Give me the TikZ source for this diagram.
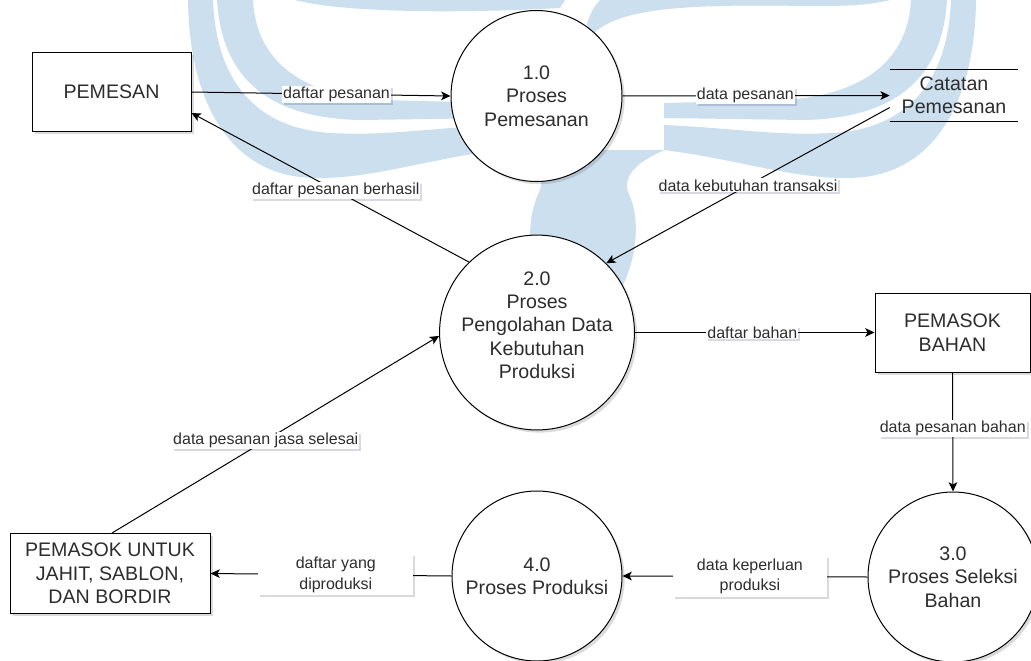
\documentclass[tikz,border=0pt]{standalone}
\usepackage{fontspec}
\setmainfont{Liberation Sans}
\usetikzlibrary{arrows.meta,shadows,calc}
\definecolor{wm}{RGB}{203,223,238}
\definecolor{txt}{RGB}{45,45,45}
\newcommand\wmwing{%
  \fill[wm] (188,0) .. controls (189,95) and (225,168) .. (300,177)
     .. controls (360,183) and (420,160) .. (500,150) -- (500,125)
     .. controls (430,128) and (390,136) .. (330,133)
     .. controls (255,128) and (216,80) .. (213,0) -- cycle;
  \fill[wm] (217,0) .. controls (222,80) and (270,118) .. (360,120)
     -- (500,118) -- (500,103) -- (380,100)
     .. controls (300,95) and (256,60) .. (253,0) -- cycle;
}
\begin{document}
\begin{tikzpicture}[x=0.75pt,y=-0.75pt,
  nshadow/.style={drop shadow={shadow xshift=2pt,shadow yshift=-2pt,opacity=0.2,fill=black!70}},
  lshadow/.style={drop shadow={shadow xshift=1.5pt,shadow yshift=-1.5pt,opacity=0.15,fill=blue!30!black}},
  proc/.style={circle,draw=black,line width=0.75pt,fill=white,inner sep=0pt,
    align=center,text=txt,font=\fontsize{14.7}{17.5}\selectfont,nshadow},
  ent/.style={rectangle,draw=black,line width=0.75pt,fill=white,inner sep=0pt,
    align=center,text=txt,font=\fontsize{14.7}{17.5}\selectfont,nshadow},
  store/.style={rectangle,inner sep=0pt,align=center,text=txt,
    font=\fontsize{14.7}{17.5}\selectfont,minimum width=96pt,minimum height=39pt},
  lbl/.style={fill=white,inner sep=0.8pt,text=txt,font=\fontsize{12}{15.5}\selectfont,lshadow},
  lbltwo/.style={lbl,align=center,minimum width=116pt,minimum height=30.75pt},
  flow/.style={draw=black,line width=0.75pt,-{Stealth[length=7pt,width=6.5pt,inset=1.8pt]}}
]
\useasboundingbox (0,0) rectangle (1031,660);
\fill[white] (0,0) rectangle (1031,660);

% watermark (background logo)
\wmwing
\begin{scope}[x=-0.75pt,xshift=873pt]
  \wmwing
\end{scope}
\fill[wm] (295,0) .. controls (340,12) and (450,14) .. (560,8) -- (565,0) -- cycle;
\fill[wm] (585,45) .. controls (600,15) and (650,8) .. (720,6)
   .. controls (800,4) and (850,10) .. (890,0) -- (600,0)
   .. controls (590,10) and (583,30) .. (585,45) -- cycle;
\fill[wm] (500,150) .. controls (535,165) and (545,175) .. (540,190)
   .. controls (530,210) and (522,250) .. (545,290)
   -- (615,300) .. controls (640,260) and (640,215) .. (628,192)
   .. controls (622,175) and (640,160) .. (665,150) -- cycle;

% nodes
\node[ent,minimum width=119.25pt,minimum height=59.25pt] (pemesan) at (111.5,92) {PEMESAN};
\node[proc,minimum size=128.25pt] (p1) at (536.5,96) {1.0\\Proses\\Pemesanan};
\node[store] (cat) at (954,95.5) {Catatan\\Pemesanan};
\draw[line width=0.75pt] (cat.north west) -- (cat.north east);
\draw[line width=0.75pt] (cat.south west) -- (cat.south east);
\node[proc,minimum size=128.25pt] (p2) at (537,332.5) {2.0\\Proses\\Pengolahan Data\\Kebutuhan\\Produksi\\[-6pt]\mbox{}};
\node[ent,minimum width=116.25pt,minimum height=59.25pt] (bahan) at (952.5,332.5) {PEMASOK\\BAHAN};
\node[proc,minimum size=127.5pt] (p3) at (953,577) {3.0\\Proses Seleksi\\Bahan};
\node[proc,minimum size=127.5pt] (p4) at (537,576) {4.0\\Proses Produksi};
\node[ent,minimum width=150pt,minimum height=60pt] (untuk) at (110,573.5) {PEMASOK UNTUK\\JAHIT, SABLON,\\DAN BORDIR};

% flows
\draw[flow] (pemesan.east) -- node[lbl,pos=0.56] {daftar pesanan} (p1.west);
\draw[flow] (p1.east) -- node[lbl,pos=0.46] {data pesanan} (cat.west);
\draw[flow] ($(cat.west)+(0,12)$) -- node[lbl,pos=0.5] {data kebutuhan transaksi} (p2.45);
\draw[flow] (p2.134) -- node[lbl,pos=0.48] {daftar pesanan berhasil} ($(pemesan.east)+(0,21)$);
\draw[flow] (p2.east) -- node[lbl,pos=0.49] {daftar bahan} (bahan.west);
\draw[flow] (bahan.south) -- node[lbl,pos=0.47] {data pesanan bahan} (p3.north);
\draw[flow] (p3.west) -- node[lbltwo,pos=0.48] {data keperluan\\produksi} (p4.east);
\draw[flow] (p4.west) -- node[lbltwo,pos=0.48] {daftar yang\\diproduksi} (untuk.east);
\draw[flow] ($(untuk.north)+(2,0)$) -- node[lbl,pos=0.47] {data pesanan jasa selesai} (p2.182);
\end{tikzpicture}
\end{document}
